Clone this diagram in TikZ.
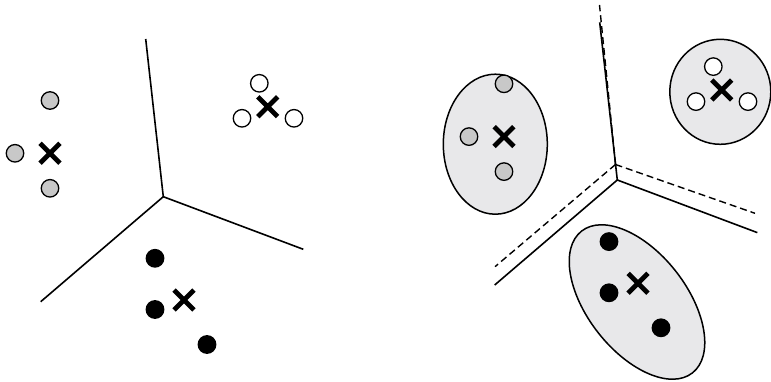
\documentclass[tikz,border=0pt]{standalone}
\usetikzlibrary{shapes.geometric,shapes.misc}
\definecolor{dotgray}{RGB}{200,200,200}
\definecolor{blobfill}{RGB}{232,232,234}
\tikzset{
  partline/.style={line width=1.6pt},
  dashline/.style={line width=1.4pt, dash pattern=on 7pt off 4pt},
  pt/.style={circle, draw, line width=1.3pt, minimum size=17.5pt, inner sep=0pt},
  graypt/.style={pt, fill=dotgray},
  whitept/.style={pt, fill=white},
  blackpt/.style={pt, fill=black},
  centroid/.style={cross out, draw, line width=4.8pt, minimum size=15pt, inner sep=0pt},
  blob/.style={ellipse, draw, line width=1.5pt, fill=blobfill, inner sep=0pt},
}
\begin{document}
\begin{tikzpicture}[x=1pt,y=-1pt]
\useasboundingbox (0,0) rectangle (771,382);
% ---------- left panel ----------
\coordinate (J) at (163.3,196.7);
\coordinate (T) at (145.7,39);
\coordinate (R) at (303.3,249.3);
\coordinate (L) at (40.7,301.7);
\draw[partline] (T) -- (J) -- (R);
\draw[partline] (J) -- (L);
\node[graypt] (g1) at (50,100.5) {};
\node[graypt] (g2) at (15,153.3) {};
\node[graypt] (g3) at (50,188.3) {};
\node[centroid] (gx) at (50,153.3) {};
\node[whitept] (w1) at (259.3,83.3) {};
\node[whitept] (w2) at (242,118.3) {};
\node[whitept] (w3) at (294,118.3) {};
\node[centroid] (wx) at (267.7,106.7) {};
\node[blackpt] (b1) at (155,258.3) {};
\node[blackpt] (b2) at (155,309.5) {};
\node[blackpt] (b3) at (207,344.5) {};
\node[centroid] (bx) at (184,300) {};
% ---------- right panel ----------
\node[blob, minimum width=104pt, minimum height=140pt] (eg) at (495.3,144.2) {};
\node[blob, minimum width=101pt, minimum height=105pt] (ew) at (720.3,91.8) {};
\node[blob, minimum width=180pt, minimum height=99pt, rotate=-52] (eb) at (637,302) {};
\coordinate (J2) at (617.3,180);
\coordinate (T2) at (599.7,22.3);
\coordinate (R2) at (757.3,232.6);
\coordinate (L2) at (494.7,285);
\coordinate (DJ) at (615.5,164.5);
\coordinate (DT) at (599.5,5);
\coordinate (DR) at (755,213.3);
\coordinate (DL) at (495,266.7);
\draw[partline] (T2) -- (J2) -- (R2);
\draw[partline] (J2) -- (L2);
\draw[dashline] (DJ) -- (DT);
\draw[dashline] (DJ) -- (DR);
\draw[dashline] (DJ) -- (DL);
\node[graypt] (g1r) at (504,83.8) {};
\node[graypt] (g2r) at (469,136.6) {};
\node[graypt] (g3r) at (504,171.6) {};
\node[centroid] (gxr) at (504,136.6) {};
\node[whitept] (w1r) at (713.3,66.6) {};
\node[whitept] (w2r) at (696,101.6) {};
\node[whitept] (w3r) at (748,101.6) {};
\node[centroid] (wxr) at (721.7,90) {};
\node[blackpt] (b1r) at (609,241.6) {};
\node[blackpt] (b2r) at (609,292.8) {};
\node[blackpt] (b3r) at (661,327.8) {};
\node[centroid] (bxr) at (638,283.3) {};
\end{tikzpicture}
\end{document}
